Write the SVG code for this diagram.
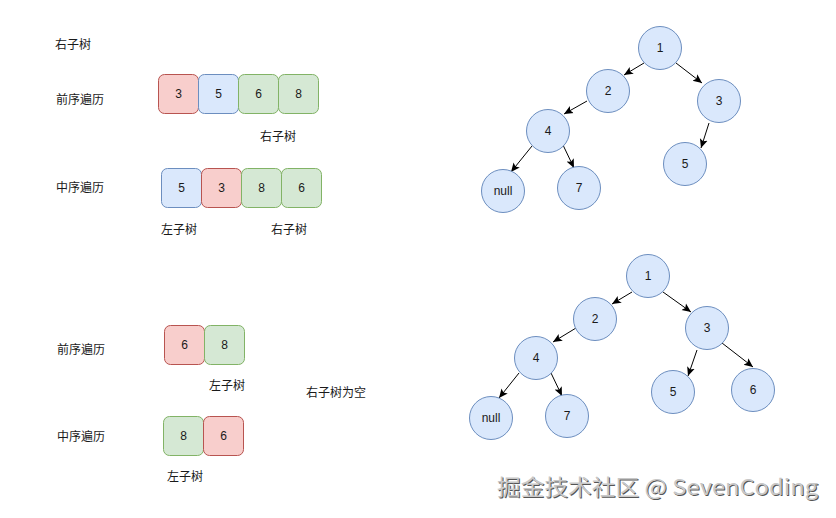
<svg xmlns="http://www.w3.org/2000/svg" width="836" height="518" viewBox="0 0 836 518">
<style>
text{font-family:"Liberation Sans","Noto Sans CJK SC",sans-serif;font-size:12px;fill:#1a1a1a}
.c{text-anchor:middle;dominant-baseline:central}
.r{fill:#f8cecc;stroke:#b85450}
.b{fill:#dae8fc;stroke:#6c8ebf}
.g{fill:#d5e8d4;stroke:#82b366}
.n{fill:#dae8fc;stroke:#6c8ebf}
.e{stroke:#000;stroke-width:1;fill:none;marker-end:url(#arr)}
.wm{font-family:"Noto Sans CJK SC","Noto Sans",sans-serif;font-size:22px}
</style>
<defs>
<marker id="arr" markerUnits="userSpaceOnUse" markerWidth="10" markerHeight="10" refX="9" refY="5" orient="auto">
<path d="M0,1 L9,5 L0,9 L2,5 z" fill="#000"/>
</marker>
</defs>
<rect width="836" height="518" fill="#fff"/>

<g id="labels">
<text x="55" y="45" dominant-baseline="central">右子树</text>
<text x="56" y="100" dominant-baseline="central">前序遍历</text>
<text x="260" y="137" dominant-baseline="central">右子树</text>
<text x="56" y="188" dominant-baseline="central">中序遍历</text>
<text x="161" y="230" dominant-baseline="central">左子树</text>
<text x="271" y="230" dominant-baseline="central">右子树</text>
<text x="57" y="350" dominant-baseline="central">前序遍历</text>
<text x="209" y="386" dominant-baseline="central">左子树</text>
<text x="306" y="393" dominant-baseline="central">右子树为空</text>
<text x="57" y="437" dominant-baseline="central">中序遍历</text>
<text x="167" y="477" dominant-baseline="central">左子树</text>
</g>

<g id="pre1">
<rect class="r" x="158.5" y="74.5" width="40" height="39" rx="6"/><text class="c" x="178.5" y="94">3</text>
<rect class="b" x="198.5" y="74.5" width="40" height="39" rx="6"/><text class="c" x="218.5" y="94">5</text>
<rect class="g" x="238.5" y="74.5" width="40" height="39" rx="6"/><text class="c" x="258.5" y="94">6</text>
<rect class="g" x="278.5" y="74.5" width="40" height="39" rx="6"/><text class="c" x="298.5" y="94">8</text>
</g>
<g id="in1">
<rect class="b" x="161.5" y="168.5" width="40" height="39" rx="6"/><text class="c" x="181.5" y="188">5</text>
<rect class="r" x="201.5" y="168.5" width="40" height="39" rx="6"/><text class="c" x="221.5" y="188">3</text>
<rect class="g" x="241.5" y="168.5" width="40" height="39" rx="6"/><text class="c" x="261.5" y="188">8</text>
<rect class="g" x="281.5" y="168.5" width="40" height="39" rx="6"/><text class="c" x="301.5" y="188">6</text>
</g>
<g id="pre2">
<rect class="r" x="164.5" y="325.5" width="40" height="39" rx="6"/><text class="c" x="184.5" y="345">6</text>
<rect class="g" x="204.5" y="325.5" width="40" height="39" rx="6"/><text class="c" x="224.5" y="345">8</text>
</g>
<g id="in2">
<rect class="g" x="163.5" y="416.5" width="40" height="39" rx="6"/><text class="c" x="183.5" y="436">8</text>
<rect class="r" x="203.5" y="416.5" width="40" height="39" rx="6"/><text class="c" x="223.5" y="436">6</text>
</g>

<g id="connectors">
<line class="e" x1="644" y1="63" x2="624" y2="75"/>
<line class="e" x1="676" y1="63" x2="702" y2="83"/>
<line class="e" x1="587" y1="101" x2="564" y2="114"/>
<line class="e" x1="709" y1="123" x2="701" y2="148"/>
<line class="e" x1="532" y1="146" x2="511" y2="172"/>
<line class="e" x1="563" y1="145" x2="574" y2="168"/>
<line class="e" x1="632" y1="292" x2="612" y2="304"/>
<line class="e" x1="663" y1="292" x2="691" y2="312"/>
<line class="e" x1="576" y1="328" x2="553" y2="342"/>
<line class="e" x1="697" y1="350" x2="688" y2="376"/>
<line class="e" x1="722" y1="343" x2="753" y2="367"/>
<line class="e" x1="519" y1="373" x2="499" y2="398"/>
<line class="e" x1="551" y1="373" x2="562" y2="396"/>
</g>

<g id="t1n1"><circle class="n" cx="660" cy="48" r="21.5"/><text class="c" x="660" y="48">1</text></g>
<g id="t1n2"><circle class="n" cx="608" cy="91" r="21.5"/><text class="c" x="608" y="91">2</text></g>
<g id="t1n3"><circle class="n" cx="719" cy="101" r="21.5"/><text class="c" x="719" y="101">3</text></g>
<g id="t1n4"><circle class="n" cx="548" cy="131" r="21.5"/><text class="c" x="548" y="131">4</text></g>
<g id="t1n5"><circle class="n" cx="685" cy="164" r="21.5"/><text class="c" x="685" y="164">5</text></g>
<g id="t1null"><circle class="n" cx="503" cy="191" r="21.5"/><text class="c" x="503" y="191">null</text></g>
<g id="t1n7"><circle class="n" cx="579" cy="188" r="21.5"/><text class="c" x="579" y="188">7</text></g>

<g id="t2n1"><circle class="n" cx="648" cy="276" r="21.5"/><text class="c" x="648" y="276">1</text></g>
<g id="t2n2"><circle class="n" cx="595" cy="319" r="21.5"/><text class="c" x="595" y="319">2</text></g>
<g id="t2n3"><circle class="n" cx="707" cy="328" r="21.5"/><text class="c" x="707" y="328">3</text></g>
<g id="t2n4"><circle class="n" cx="536" cy="358" r="21.5"/><text class="c" x="536" y="358">4</text></g>
<g id="t2n5"><circle class="n" cx="673" cy="392" r="21.5"/><text class="c" x="673" y="392">5</text></g>
<g id="t2n6"><circle class="n" cx="753" cy="390" r="21.5"/><text class="c" x="753" y="390">6</text></g>
<g id="t2null"><circle class="n" cx="491" cy="418" r="21.5"/><text class="c" x="491" y="418">null</text></g>
<g id="t2n7"><circle class="n" cx="567" cy="416" r="21.5"/><text class="c" x="567" y="416">7</text></g>

<g id="watermark">
<text class="wm" x="498" y="496" textLength="321" lengthAdjust="spacingAndGlyphs" style="fill:#555">掘金技术社区 @ SevenCoding</text>
<text class="wm" x="497" y="495" textLength="321" lengthAdjust="spacingAndGlyphs" style="fill:#c8c8c8">掘金技术社区 @ SevenCoding</text>
</g>
</svg>
